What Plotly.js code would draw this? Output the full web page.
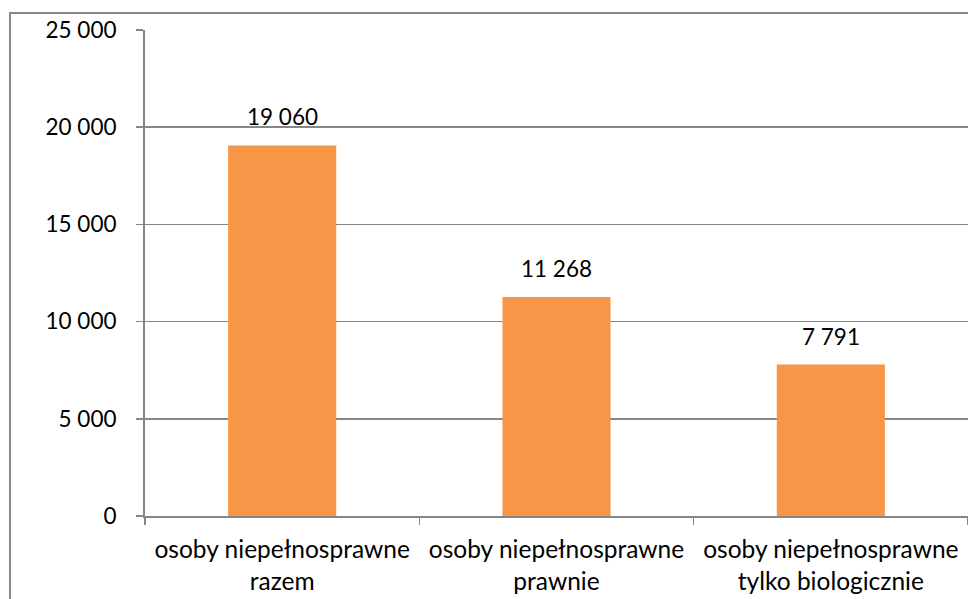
<!DOCTYPE html>
<html>
<head>
<meta charset="utf-8">
<script src="https://cdn.plot.ly/plotly-3.0.1.min.js"></script>
<style>
html,body{margin:0;padding:0;background:#fff;overflow:hidden;}
#wrap{position:relative;width:968px;height:599px;}
#frame{position:absolute;left:9px;top:12px;width:1000px;height:700px;border:2px solid #888;box-sizing:border-box;pointer-events:none;}
#chart{position:absolute;left:0;top:0;width:968px;height:599px;}
</style>
</head>
<body>
<div id="wrap">
<div id="chart"></div>
<div id="frame"></div>
</div>
<script>
const categories = ["osoby niepełnosprawne<br>razem", "osoby niepełnosprawne<br>prawnie", "osoby niepełnosprawne<br>tylko biologicznie"];
const values = [19060, 11268, 7791];
const yTickVals = [0, 5000, 10000, 15000, 20000, 25000];

function fmt(v){ return String(v).replace(/\B(?=(\d{3})+(?!\d))/g, ' '); }

const FONT = 'Lato, "Open Sans", sans-serif';

const trace = {
  type: 'bar',
  x: categories,
  y: values,
  marker: {color: '#F79646'},
  hoverinfo: 'none'
};

const annotations = categories.map((c, i) => ({
  x: c, y: values[i], xref: 'x', yref: 'y',
  text: fmt(values[i]), showarrow: false,
  yanchor: 'bottom', yshift: 13,
  font: {family: FONT, size: 22.5, color: '#000'}
}));

const layout = {
  width: 968, height: 599,
  margin: {l: 145, r: 0, t: 30, b: 83},
  paper_bgcolor: 'rgba(0,0,0,0)',
  plot_bgcolor: '#fff',
  separators: ', ',
  bargap: 0.606,
  showlegend: false,
  font: {family: FONT, size: 22.5, color: '#000'},
  xaxis: {
    type: 'category',
    showline: true, linecolor: '#868686', linewidth: 2,
    ticks: 'outside', tickson: 'boundaries', ticklen: 7, tickcolor: '#868686', tickwidth: 1.5,
    ticklabelstandoff: 11,
    showgrid: false, zeroline: false,
    tickfont: {family: FONT, size: 24.5, color: '#000'},
    fixedrange: true
  },
  yaxis: {
    range: [0, 25000],
    tickvals: yTickVals,
    ticktext: yTickVals.map(fmt),
    showline: true, linecolor: '#868686', linewidth: 2,
    ticks: 'outside', ticklen: 7, tickcolor: '#868686', tickwidth: 1.5,
    ticklabelstandoff: 15,
    showgrid: true, gridcolor: '#868686', gridwidth: 1.5,
    zeroline: false,
    tickfont: {family: FONT, size: 22.5, color: '#000'},
    fixedrange: true
  },
  annotations: annotations
};

Plotly.newPlot('chart', [trace], layout, {displayModeBar: false, staticPlot: true});
</script>
</body>
</html>
